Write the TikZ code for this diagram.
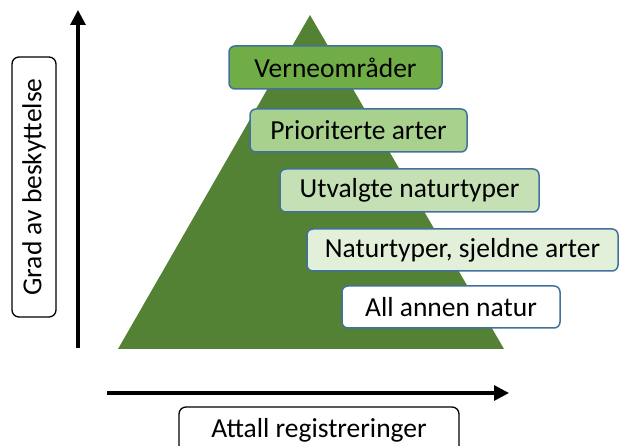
\documentclass[tikz,border=0pt]{standalone}
\usepackage{fontspec}
\setmainfont{Carlito}
\usetikzlibrary{arrows.meta}
\definecolor{tri}{HTML}{548235}
\definecolor{edge}{HTML}{41719C}
\definecolor{g1}{HTML}{70AD47}
\definecolor{g2}{HTML}{A9D18E}
\definecolor{g3}{HTML}{C5E0B4}
\definecolor{g4}{HTML}{E2F0D9}
\tikzset{
  lvl/.style={draw=edge, line width=1.5pt, rounded corners=6pt, minimum height=43pt, inner sep=0pt, font=\fontsize{27.5}{31}\selectfont},
  axlabel/.style={draw=black, line width=1.3pt, rounded corners=7pt, inner sep=0pt, font=\fontsize{27.5}{31}\selectfont},
  axis/.style={line width=3.2pt, -{Triangle[length=15pt,width=15pt]}}
}
\begin{document}
\begin{tikzpicture}[x=1pt,y=-1pt]
\useasboundingbox (0,0) rectangle (619,446);
\coordinate (apex) at (310,15);
\coordinate (bl) at (118,349);
\coordinate (br) at (504,349);
\fill[tri] (apex) -- (bl) -- (br) -- cycle;
\coordinate (vs) at (78,348);
\coordinate (ve) at (78,10);
\draw[axis] (vs) -- (ve);
\coordinate (hs) at (107,393);
\coordinate (he) at (509,393);
\draw[axis] (hs) -- (he);
\node[lvl, fill=g1, minimum width=213pt] (b1) at (335.5,67.5) {Verneområder};
\node[lvl, fill=g2, minimum width=217pt] (b2) at (358.5,130.5) {Prioriterte arter};
\node[lvl, fill=g3, minimum width=259pt] (b3) at (409.5,190.5) {Utvalgte naturtyper};
\node[lvl, fill=g4, minimum width=311pt, minimum height=42pt] (b4) at (462.5,250) {Naturtyper, sjeldne arter};
\node[lvl, fill=white, minimum width=218pt, minimum height=42pt] (b5) at (451,307) {All annen natur};
\node[axlabel, rotate=90, minimum width=260pt, minimum height=44pt] (yl) at (34,187) {Grad av beskyttelse};
\node[axlabel, minimum width=280pt, minimum height=50pt] (xl) at (319,432) {};
\node[font=\fontsize{27.5}{31}\selectfont, anchor=base, inner sep=0pt] (xt) at (319,438) {Attall registreringer};
\end{tikzpicture}
\end{document}
